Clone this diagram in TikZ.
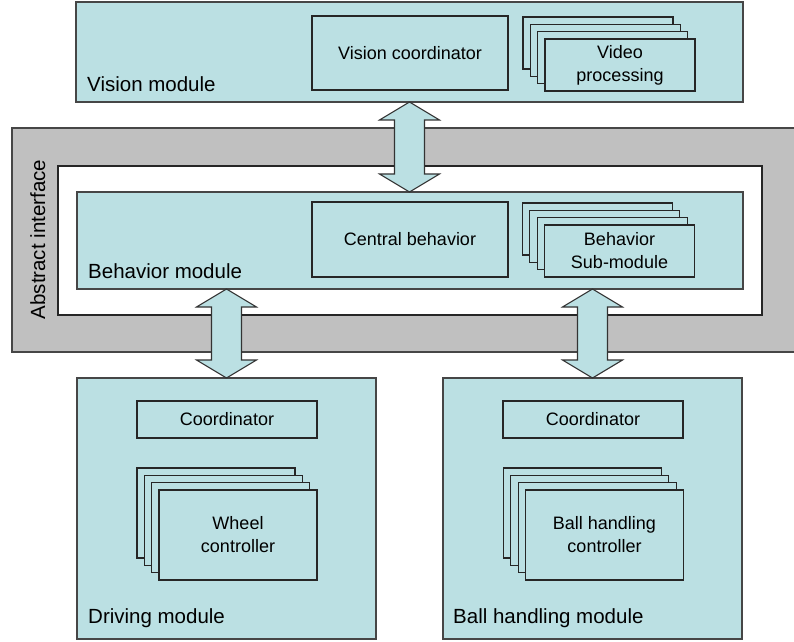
\documentclass[tikz,border=0pt]{standalone}
\usepackage{fontspec}
\setmainfont{Liberation Sans}
\usetikzlibrary{calc}
\definecolor{cyanfill}{RGB}{187,224,227}
\definecolor{grayfill}{RGB}{192,192,192}
\definecolor{modborder}{RGB}{70,70,70}
\tikzset{
  module/.style={draw=modborder, fill=cyanfill, line width=1.2pt, inner sep=0pt, outer sep=0pt},
  inbox/.style={draw=black!85, fill=cyanfill, line width=1.1pt, inner sep=0pt, outer sep=0pt, align=center,
    font=\fontsize{18}{23}\selectfont},
  lbl/.style={anchor=base west, inner sep=0pt, font=\fontsize{20.5}{24}\selectfont},
  arr/.style={draw=black!80, fill=cyanfill, line width=1.1pt, line join=miter},
}
\newcommand{\dblarrow}[2]{%
  \path[arr] (#1) -- ($(#1)+(30,-18)$) -- ($(#1)+(15,-18)$) -- ($(#2)+(15,18)$) -- ($(#2)+(30,18)$)
    -- (#2) -- ($(#2)+(-30,18)$) -- ($(#2)+(-15,18)$) -- ($(#1)+(-15,-18)$) -- ($(#1)+(-30,-18)$) -- cycle;}
\newcommand{\stackbox}[6]{% name, cx, cy, w, h, text
  \foreach \k in {3,2,1}{
    \node[inbox, minimum width=#4, minimum height=#5] (#1b\k) at ({#2-7.33*\k},{#3+7.33*\k}) {};
  }
  \node[inbox, minimum width=#4, minimum height=#5] (#1) at (#2,#3) {#6};
}
\begin{document}
\begin{tikzpicture}[x=1pt,y=1pt]
\useasboundingbox (0,0) rectangle (794,641);
\clip (0,0) rectangle (794,641);
% abstract interface
\node[draw=modborder, fill=grayfill, line width=1.2pt, inner sep=0pt, outer sep=0pt,
  minimum width=788, minimum height=224] (gray) at (406,401) {};
\node[draw=black!85, fill=white, line width=1.2pt, inner sep=0pt, outer sep=0pt,
  minimum width=704, minimum height=149] (white) at (410,400.5) {};
\node[anchor=base, rotate=90, inner sep=0pt, font=\fontsize{20.5}{24}\selectfont] (abstract) at (45,401.5) {Abstract interface};
% modules
\node[module, minimum width=667, minimum height=100] (vision) at (409.5,589) {};
\node[module, minimum width=666, minimum height=97] (behavior) at (410,400.5) {};
\node[module, minimum width=299, minimum height=261] (driving) at (226.5,132.5) {};
\node[module, minimum width=299, minimum height=261] (ball) at (592.5,132.5) {};
% labels
\node[lbl] (visionlbl) at (87,549) {Vision module};
\node[lbl] (behaviorlbl) at (88,363) {Behavior module};
\node[lbl] (drivinglbl) at (88,18) {Driving module};
\node[lbl] (balllbl) at (453,18) {Ball handling module};
% vision contents
\node[inbox, minimum width=196, minimum height=74] (viscoord) at (410,588) {Vision coordinator};
\stackbox{video}{620}{576}{150}{52}{Video\\processing}
% behavior contents
\node[inbox, minimum width=196, minimum height=75] (central) at (410,401.5) {Central behavior};
\stackbox{behsub}{619.5}{390}{150}{52}{Behavior\\Sub-module}
% driving contents
\node[inbox, minimum width=180, minimum height=37] (drvcoord) at (227,221.5) {Coordinator};
\stackbox{wheel}{238}{106}{158}{90}{Wheel\\controller}
% ball contents
\node[inbox, minimum width=180, minimum height=37] (ballcoord) at (593,221.5) {Coordinator};
\stackbox{ballctl}{604.5}{106}{158}{90}{Ball handling\\controller}
% arrows
\coordinate (t1) at (vision.south);
\coordinate (b1) at (vision.south |- behavior.north);
\dblarrow{t1}{b1}
\coordinate (t2) at (behavior.south -| driving.north);
\dblarrow{t2}{driving.north}
\coordinate (t3) at (behavior.south -| ball.north);
\dblarrow{t3}{ball.north}
\end{tikzpicture}
\end{document}
